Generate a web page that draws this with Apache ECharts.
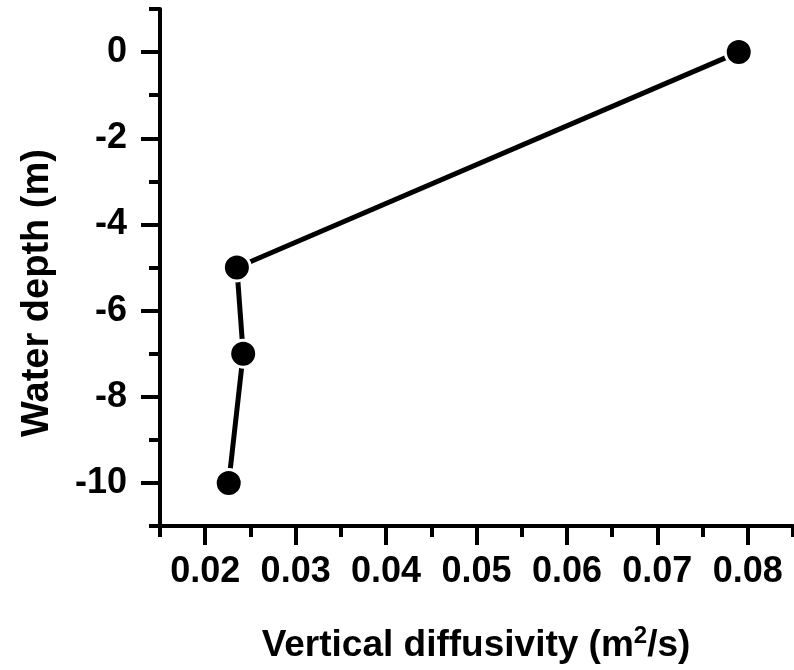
<!DOCTYPE html>
<html>
<head>
<meta charset="utf-8">
<script src="https://cdn.jsdelivr.net/npm/echarts@6/dist/echarts.min.js"></script>
<style>
html,body{margin:0;padding:0;background:#fff;}
#chart{width:794px;height:670px;}
</style>
</head>
<body>
<div id="chart"></div>
<script>
// Data
const diffusivity = [0.079, 0.0235, 0.0242, 0.0226];
const depth = [0, -5, -7, -10];
const xMajorTicks = [0.02, 0.03, 0.04, 0.05, 0.06, 0.07, 0.08];
const yMajorTicks = [0, -2, -4, -6, -8, -10];
const xTitle = 'Vertical diffusivity (m{sup|2}/s)';
const yTitle = 'Water depth (m)';

const FONT = 'Liberation Sans, Arial, Helvetica, sans-serif';
const points = diffusivity.map((v, i) => [v, depth[i]]);

const chart = echarts.init(document.getElementById('chart'), null, {renderer: 'canvas'});

const axisBase = {
  type: 'value',
  splitLine: {show: false}
};

chart.setOption({
  animation: false,
  backgroundColor: '#fff',
  grid: {left: 160, right: 1, top: 9, bottom: 144, containLabel: false},
  xAxis: [
    Object.assign({}, axisBase, {
      min: 0.015, max: 0.085, interval: 0.005, position: 'bottom',
      axisLine: {show: true, onZero: false, lineStyle: {color: '#000', width: 4}},
      axisTick: {show: true, length: 11, lineStyle: {color: '#000', width: 4}},
      axisLabel: {show: false}
    }),
    Object.assign({}, axisBase, {
      min: 0.015, max: 0.085, position: 'bottom',
      axisLine: {show: false, onZero: false},
      axisTick: {show: true, length: 19, customValues: xMajorTicks, lineStyle: {color: '#000', width: 4}},
      axisLabel: {
        show: true, customValues: xMajorTicks, margin: 28,
        color: '#000', fontFamily: FONT, fontWeight: 'bold', fontSize: 36,
        formatter: v => Number(v).toFixed(2)
      }
    })
  ],
  yAxis: [
    Object.assign({}, axisBase, {
      min: -11, max: 1, interval: 1, position: 'left',
      axisLine: {show: true, onZero: false, lineStyle: {color: '#000', width: 4}},
      axisTick: {show: true, length: 11, lineStyle: {color: '#000', width: 4}},
      axisLabel: {show: false}
    }),
    Object.assign({}, axisBase, {
      min: -11, max: 1, position: 'left',
      axisLine: {show: false, onZero: false},
      axisTick: {show: true, length: 19, customValues: yMajorTicks, lineStyle: {color: '#000', width: 4}},
      axisLabel: {
        show: true, customValues: yMajorTicks, margin: 33,
        color: '#000', fontFamily: FONT, fontWeight: 'bold', fontSize: 36,
        formatter: v => String(Math.round(v))
      }
    })
  ],
  graphic: [
    {
      type: 'text', x: 476, y: 646,
      style: {
        text: xTitle, fill: '#000', fontFamily: FONT, fontWeight: 'bold', fontSize: 37,
        align: 'center', verticalAlign: 'middle',
        rich: {
          sup: {fill: '#000', fontFamily: FONT, fontWeight: 'bold', fontSize: 24, verticalAlign: 'top', padding: [0, 0, 20, 0]}
        }
      }
    },
    {
      type: 'text', x: 38, y: 293, rotation: Math.PI / 2,
      style: {
        text: yTitle, fill: '#000', fontFamily: FONT, fontWeight: 'bold', fontSize: 38,
        align: 'center', verticalAlign: 'middle'
      }
    }
  ],
  series: [{
    type: 'line',
    xAxisIndex: 0, yAxisIndex: 0,
    data: points,
    symbol: 'circle', symbolSize: 27,
    lineStyle: {color: '#000', width: 5},
    itemStyle: {color: '#000', borderColor: '#fff', borderWidth: 3},
    clip: false,
    z: 3
  }]
});
</script>
</body>
</html>
